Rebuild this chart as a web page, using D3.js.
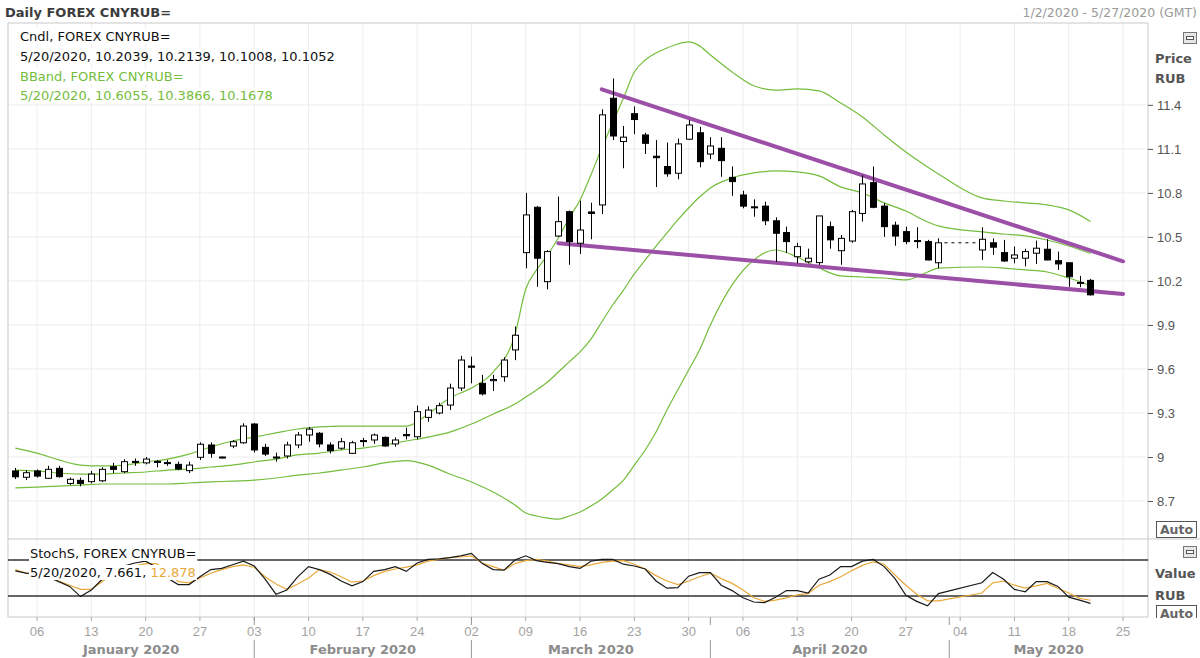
<!DOCTYPE html>
<html>
<head>
<meta charset="utf-8">
<script src="https://cdnjs.cloudflare.com/ajax/libs/d3/7.8.5/d3.min.js"></script>
<style>
body { margin: 0; background: #fff; }
svg { display: block; font-family: "DejaVu Sans", "Verdana", sans-serif; }
</style>
</head>
<body>
<script>
/* Daily CNYRUB=, 2 Jan - 20 May 2020, one entry per weekday (null = no quote) */
var opens  = [8.905,8.862,8.905,8.855,8.923,8.82,8.841,8.832,8.838,8.934,8.90,8.97,8.96,8.97,8.962,8.95,8.907,8.998,9.082,9.0,
              9.075,9.097,9.225,9.066,9.0,9.007,9.082,9.15,9.162,9.082,9.06,9.025,9.112,9.116,9.134,9.089,9.153,9.138,9.27,9.30,
              9.354,9.47,9.62,9.502,9.52,9.547,9.73,10.393,10.702,10.195,10.506,10.672,10.457,10.67,10.718,11.445,11.15,11.34,11.195,11.05,
              10.98,10.934,11.166,11.21,11.065,11.104,10.906,10.786,10.705,10.71,10.61,10.53,10.365,10.33,10.325,10.57,10.406,10.472,10.66,10.87,
              10.71,10.58,10.536,10.475,10.468,10.324,null,null,null,10.411,10.46,10.393,10.355,10.355,10.389,10.416,10.338,10.324,10.185,10.2039];
var highs  = [8.925,8.91,8.915,8.94,8.94,8.86,8.86,8.905,8.93,8.96,8.985,8.99,9.0,8.98,8.98,8.968,8.968,9.10,9.10,9.003,
              9.115,9.23,9.23,9.09,9.03,9.104,9.17,9.205,9.17,9.10,9.13,9.11,9.13,9.16,9.14,9.134,9.20,9.35,9.345,9.37,
              9.50,9.69,9.684,9.56,9.56,9.68,9.89,10.80,10.71,10.41,10.775,10.68,10.747,10.733,11.37,11.58,11.256,11.39,11.21,11.16,
              11.143,11.17,11.297,11.25,11.18,11.18,10.98,10.815,10.756,10.74,10.634,10.57,10.46,10.42,10.643,10.604,10.513,10.684,10.92,10.98,
              10.73,10.604,10.57,10.566,10.48,10.49,null,null,null,10.566,10.49,10.48,10.434,10.42,10.475,10.484,10.40,10.324,10.234,10.2139];
var lows   = [8.85,8.843,8.86,8.85,8.86,8.81,8.80,8.82,8.83,8.89,8.89,8.94,8.95,8.93,8.94,8.91,8.89,8.98,8.995,8.99,
              9.06,9.09,9.03,9.007,8.968,8.99,9.06,9.104,9.066,9.025,9.05,9.02,9.07,9.09,9.07,9.07,9.12,9.12,9.24,9.29,
              9.32,9.45,9.502,9.42,9.45,9.513,9.66,10.286,10.16,10.143,10.50,10.31,10.384,10.484,10.656,11.16,10.968,11.20,11.065,10.84,
              10.91,10.893,11.16,10.975,11.03,10.91,10.78,10.695,10.638,10.58,10.33,10.39,10.32,10.32,10.31,10.42,10.31,10.46,10.604,10.695,
              10.50,10.44,10.45,10.423,10.34,10.286,null,null,null,10.343,10.377,10.33,10.32,10.30,10.316,10.34,10.275,10.16,10.157,10.1008];
var closes = [8.865,8.893,8.87,8.916,8.866,8.848,8.82,8.884,8.916,8.916,8.968,8.966,8.986,8.966,8.958,8.918,8.945,9.087,9.025,8.995,
              9.104,9.211,9.048,9.02,8.996,9.082,9.15,9.19,9.089,9.043,9.104,9.097,9.105,9.15,9.075,9.116,9.145,9.309,9.32,9.35,
              9.47,9.661,9.612,9.43,9.528,9.661,9.83,10.65,10.355,10.40,10.604,10.468,10.547,10.66,11.332,11.188,11.18,11.30,11.138,11.04,
              10.93,11.134,11.263,11.013,11.12,11.02,10.877,10.71,10.70,10.61,10.525,10.468,10.434,10.355,10.643,10.48,10.49,10.672,10.861,10.702,
              10.57,10.506,10.468,10.47,10.343,10.46,null,null,null,10.484,10.43,10.336,10.377,10.40,10.423,10.343,10.316,10.229,10.19,10.1052];

/* Bollinger band, read at these dates */
var bbDates = ["2020-01-02","2020-01-06","2020-01-08","2020-01-10","2020-01-14","2020-01-16","2020-01-20","2020-01-22","2020-01-24","2020-01-28",
               "2020-01-30","2020-02-03","2020-02-05","2020-02-07","2020-02-11","2020-02-13","2020-02-17","2020-02-19","2020-02-21","2020-02-25",
               "2020-02-27","2020-03-02","2020-03-04","2020-03-06","2020-03-09","2020-03-10","2020-03-11","2020-03-12","2020-03-13","2020-03-16",
               "2020-03-17","2020-03-18","2020-03-19","2020-03-20","2020-03-23","2020-03-24","2020-03-25","2020-03-26","2020-03-27","2020-03-30",
               "2020-03-31","2020-04-01","2020-04-03","2020-04-07","2020-04-09","2020-04-13","2020-04-15","2020-04-17","2020-04-21","2020-04-23",
               "2020-04-27","2020-04-29","2020-04-30","2020-05-06","2020-05-08","2020-05-12","2020-05-14","2020-05-18","2020-05-20"];
var bbUpper  = [9.061,9.027,8.980,8.945,8.939,8.945,8.966,8.986,9.020,9.068,9.109,9.136,9.164,9.191,9.205,9.211,9.211,9.211,9.211,9.293,
                9.402,9.470,9.579,9.832,10.145,10.275,10.377,10.493,10.629,10.752,10.922,11.106,11.277,11.447,11.624,11.706,11.754,11.788,11.815,11.829,
                11.802,11.740,11.624,11.530,11.500,11.509,11.495,11.413,11.318,11.195,11.079,10.977,10.929,10.766,10.745,10.732,10.718,10.684,10.6055];
var bbMiddle = [8.911,8.905,8.891,8.884,8.884,8.891,8.898,8.911,8.918,8.932,8.945,8.966,8.986,9.014,9.027,9.048,9.061,9.082,9.109,9.136,
                9.170,9.225,9.293,9.361,9.409,9.457,9.511,9.579,9.648,9.716,9.804,9.920,10.036,10.138,10.248,10.343,10.438,10.527,10.616,10.697,
                10.772,10.834,10.902,10.936,10.950,10.943,10.916,10.841,10.800,10.732,10.677,10.602,10.575,10.534,10.520,10.507,10.479,10.438,10.3866];
var bbLower  = [8.789,8.795,8.802,8.809,8.816,8.816,8.816,8.816,8.823,8.830,8.836,8.843,8.857,8.877,8.891,8.911,8.932,8.960,8.976,8.945,
                8.884,8.830,8.761,8.673,8.618,8.598,8.584,8.577,8.598,8.625,8.666,8.714,8.775,8.843,8.945,9.048,9.170,9.320,9.457,9.593,
                9.729,9.900,10.173,10.343,10.411,10.363,10.288,10.234,10.227,10.220,10.207,10.261,10.288,10.295,10.288,10.275,10.261,10.220,10.1678];

/* drawn trend lines */
var trendUpper = [{date: "2020-03-18", value: 11.506}, {date: "2020-05-25", value: 10.334}];
var trendLower = [{date: "2020-03-12", value: 10.457}, {date: "2020-05-25", value: 10.111}];

/* slow stochastic, same weekdays as the candles */
var stochK = [62,58,57,52,44,36,19,30,48,60,70,75,78,68,50,39,39,52,64,66,
              72,78,70,48,23,30,52,69,64,56,45,37,44,61,64,69,61,75,81,82,
              84,87,91,74,64,63,80,87,79,76,74,69,66,78,81,81,73,70,65,45,
              33,34,53,59,59,38,29,17,10,9,18,29,29,25,48,55,69,69,78,81,
              69,49,21,11,3.5,24,null,null,null,42,59,48,31,27,44,44,36,18,13,7.661];
var stochD = [64,58,55,50,45,38,31,31,44,55,63,70,74,74,62,44,42,50,58,64,
              69,72,68,52,40,31,40,50,64,60,52,43,45,54,61,65,68,72,78,81,
              84,85,87,75,69,63,74,79,81,78,74,72,69,72,76,78,79,73,65,54,
              45,39,45,52,58,49,41,30,17,11,13,17,22,24,38,44,52,62,71,77,
              73,55,38,23,12,12,null,null,null,25,42,45,38,33,37,41,33,25,16,12.878];

var priceTicks = [8.7, 9, 9.3, 9.6, 9.9, 10.2, 10.5, 10.8, 11.1, 11.4];
var months = [{label: "January 2020", first: "2020-01-02"}, {label: "February 2020", first: "2020-02-03"},
              {label: "March 2020", first: "2020-03-02"}, {label: "April 2020", first: "2020-04-01"},
              {label: "May 2020", first: "2020-05-01"}];

var green = "#74bd3c", purple = "#9c4fa6", orange = "#e9a83a";
var L = 8, R = 1148, T = 23, MB = 539, SB = 617;

var fmt = d3.timeFormat("%Y-%m-%d");
var days = d3.timeDay.range(new Date(2020, 0, 2), new Date(2020, 4, 28))
	.filter(function(d){ return d.getDay() != 0 && d.getDay() != 6; });
var keys = days.map(fmt);
var mondays = days.filter(function(d){ return d.getDay() == 1; }).map(fmt);

var x = d3.scaleBand().domain(keys).range([9.9, 1150.2]);
function cx(k){ return x(k) + x.bandwidth()/2; }
var y = d3.scaleLinear().domain([8.448, 11.958]).range([538, 23]);
var ys = d3.scaleLinear().domain([0, 100]).range([608, 548]);

var svg = d3.select("body").append("svg").attr("width", 1200).attr("height", 658);

/* grid */
var grid = svg.append("g").attr("stroke", "#ededed").attr("stroke-width", 1);
for (var i = 0; i < mondays.length; i += 1){
	grid.append("line").attr("x1", cx(mondays[i])).attr("x2", cx(mondays[i]))
		.attr("y1", T).attr("y2", SB);
}
for (var i = 0; i < priceTicks.length; i += 1){
	grid.append("line").attr("x1", L).attr("x2", R)
		.attr("y1", y(priceTicks[i])).attr("y2", y(priceTicks[i]));
}

/* frame */
svg.append("rect").attr("x", L).attr("y", T).attr("width", R-L).attr("height", SB-T)
	.attr("fill", "none").attr("stroke", "#c9c9c9");
svg.append("line").attr("x1", L).attr("x2", 1200).attr("y1", MB).attr("y2", MB).attr("stroke", "#c9c9c9");

/* bollinger */
var bbLine = d3.line().x(function(d){ return cx(d[0]); }).y(function(d){ return y(d[1]); }).curve(d3.curveMonotoneX);
[bbUpper, bbMiddle, bbLower].forEach(function(band){
	svg.append("path")
		.attr("d", bbLine(bbDates.map(function(k, i){ return [k, band[i]]; })))
		.attr("fill", "none").attr("stroke", green).attr("stroke-width", 1.2);
});

/* trend lines */
[trendUpper, trendLower].forEach(function(t){
	svg.append("line")
		.attr("x1", cx(t[0].date)).attr("y1", y(t[0].value))
		.attr("x2", cx(t[1].date)).attr("y2", y(t[1].value))
		.attr("stroke", purple).attr("stroke-width", 4).attr("stroke-linecap", "round");
});

/* candles */
var cw = 6;
for (var i = 0; i < opens.length; i += 1){
	if (opens[i] == null) continue;
	var xc = Math.round(cx(keys[i])) + 0.5;
	var up = closes[i] >= opens[i];
	svg.append("line").attr("x1", xc).attr("x2", xc)
		.attr("y1", y(highs[i])).attr("y2", y(lows[i]))
		.attr("stroke", "#000").attr("stroke-width", 1);
	var yTop = y(Math.max(opens[i], closes[i])), yBot = y(Math.min(opens[i], closes[i]));
	svg.append("rect")
		.attr("x", xc - cw/2).attr("y", yTop)
		.attr("width", cw).attr("height", Math.max(yBot - yTop, 1))
		.attr("fill", up ? "#fff" : "#000").attr("stroke", "#000").attr("stroke-width", 1);
}
/* missing days: dashed at last close */
var gapA = keys.indexOf("2020-04-30"), gapB = keys.indexOf("2020-05-06");
svg.append("line")
	.attr("x1", cx(keys[gapA]) + 6).attr("x2", cx(keys[gapB]) - 5)
	.attr("y1", y(closes[gapA])).attr("y2", y(closes[gapA]))
	.attr("stroke", "#000").attr("stroke-dasharray", "3,4");

/* stochastic panel */
[80, 20].forEach(function(v){
	svg.append("line").attr("x1", L).attr("x2", R).attr("y1", ys(v)).attr("y2", ys(v))
		.attr("stroke", "#333").attr("stroke-width", 1.5);
});
var sLine = d3.line().x(function(d){ return cx(keys[d.i]); }).y(function(d){ return ys(d.v); });
function pts(arr){
	return arr.map(function(v, i){ return {i: i, v: v}; }).filter(function(d){ return d.v != null; });
}
svg.append("path").attr("d", sLine(pts(stochD))).attr("fill", "none").attr("stroke", orange).attr("stroke-width", 1.2);
svg.append("path").attr("d", sLine(pts(stochK))).attr("fill", "none").attr("stroke", "#1a1a1a").attr("stroke-width", 1.2);

/* legends with white boxes */
function legendRow(px, py, parts){
	var g = svg.append("g");
	var t = g.append("text").attr("x", px).attr("y", py).attr("font-size", 13);
	parts.forEach(function(p){ t.append("tspan").attr("fill", p[1]).text(p[0]); });
	var b = t.node().getBBox();
	g.insert("rect", "text").attr("x", b.x - 1).attr("y", b.y).attr("width", b.width + 2).attr("height", b.height)
		.attr("fill", "#fff");
}
legendRow(20, 41, [["Cndl, FOREX CNYRUB=", "#111"]]);
legendRow(20, 61, [["5/20/2020, 10.2039, 10.2139, 10.1008, 10.1052", "#111"]]);
legendRow(20, 81, [["BBand, FOREX CNYRUB=", green]]);
legendRow(20, 100, [["5/20/2020, 10.6055, 10.3866, 10.1678", green]]);
legendRow(30, 558, [["StochS, FOREX CNYRUB=", "#111"]]);
legendRow(30, 577, [["5/20/2020, 7.661, ", "#111"], ["12.878", orange]]);

/* header */
svg.append("text").attr("x", 5).attr("y", 17).attr("font-size", 13).attr("font-weight", "bold")
	.attr("fill", "#3c3c3c").text("Daily FOREX CNYRUB=");
svg.append("text").attr("x", 1197).attr("y", 17).attr("font-size", 12.5).attr("text-anchor", "end")
	.attr("fill", "#9a9a9a").text("1/2/2020 - 5/27/2020 (GMT)");

/* price axis */
var ax = svg.append("g").attr("transform", "translate(" + R + ",0)")
	.call(d3.axisRight(y).tickValues(priceTicks).tickSize(5).tickPadding(4)
		.tickFormat(function(d){ return String(+d.toFixed(1)); }));
ax.select(".domain").remove();
ax.selectAll("line").attr("stroke", "#555");
ax.selectAll("text").attr("font-size", 13).attr("fill", "#555").attr("font-family", null);

/* right side labels */
function rlabel(txt, py){
	svg.append("text").attr("x", 1155).attr("y", py).attr("font-size", 13).attr("font-weight", "bold")
		.attr("fill", "#555").text(txt);
}
rlabel("Price", 63); rlabel("RUB", 83); rlabel("Value", 578); rlabel("RUB", 600);
function icon(py){
	svg.append("rect").attr("x", 1183.5).attr("y", py + 0.5).attr("width", 13).attr("height", 11)
		.attr("fill", "#e6e6e6").attr("stroke", "#777");
	svg.append("rect").attr("x", 1186.5).attr("y", py + 4.5).attr("width", 7).attr("height", 3)
		.attr("fill", "#fff").attr("stroke", "#555");
}
icon(32); icon(546);
function autoBtn(py){
	svg.append("rect").attr("x", 1156.5).attr("y", py + 0.5).attr("width", 40).attr("height", 16)
		.attr("fill", "#fff").attr("stroke", "#555");
	svg.append("text").attr("x", 1176.5).attr("y", py + 13).attr("text-anchor", "middle")
		.attr("font-size", 12.5).attr("font-weight", "bold").attr("fill", "#666").text("Auto");
}
autoBtn(521); autoBtn(605);
svg.append("rect").attr("x", 1149).attr("y", 618).attr("width", 51).attr("height", 40).attr("fill", "#fff");

/* date axis */
var dx = svg.append("g").attr("transform", "translate(0," + SB + ")")
	.call(d3.axisBottom(x).tickValues(mondays).tickSize(4).tickPadding(6)
		.tickFormat(function(d){ return d.slice(8); }));
dx.select(".domain").remove();
dx.selectAll("line").attr("stroke", "#aaa");
dx.selectAll("text").attr("font-size", 13).attr("fill", "#a3a3a3").attr("font-family", null);

/* months */
for (var m = 0; m < months.length; m += 1){
	var x0 = m == 0 ? L : cx(months[m].first);
	var x1 = m == months.length - 1 ? R : cx(months[m+1].first);
	if (m > 0){
		svg.append("line").attr("x1", x0).attr("x2", x0).attr("y1", SB).attr("y2", SB + 8).attr("stroke", "#999");
		svg.append("line").attr("x1", x0).attr("x2", x0).attr("y1", 640).attr("y2", 658).attr("stroke", "#999");
	}
	svg.append("text").attr("x", (x0 + x1)/2).attr("y", 654).attr("text-anchor", "middle")
		.attr("font-size", 13).attr("font-weight", "bold").attr("fill", "#8c8c8c").text(months[m].label);
}
</script>
</body>
</html>
